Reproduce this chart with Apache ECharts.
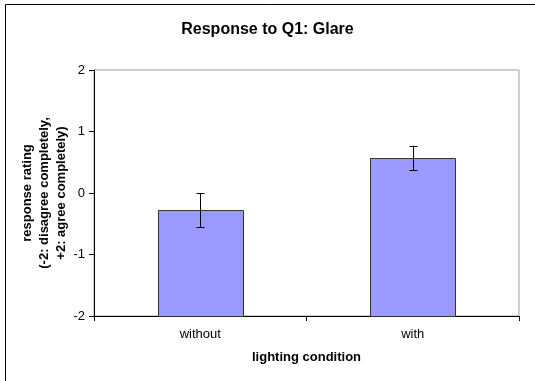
<!DOCTYPE html>
<html><head><meta charset="utf-8">
<script src="https://cdn.jsdelivr.net/npm/echarts@6/dist/echarts.min.js"></script>
<style>html,body{margin:0;padding:0;background:#fff}#c{width:535px;height:381px}</style>
</head><body><div id="c"></div>
<script>
var categories = ['without', 'with'];
var means = [-0.28, 0.57];
var errors = [0.28, 0.2];
var yTicks = [-2, -1, 0, 1, 2];

var chart = echarts.init(document.getElementById('c'), null, {renderer: 'canvas'});
var FONT = 'Liberation Sans, Arial, sans-serif';
var barData = categories.map(function (c, i) { return [i, means[i]]; });
var errData = categories.map(function (c, i) { return [i, means[i] - errors[i], means[i] + errors[i]]; });

chart.setOption({
  animation: false,
  backgroundColor: '#fff',
  title: {
    text: 'Response to Q1: Glare', left: 'center', top: 17,
    textStyle: {fontFamily: FONT, fontSize: 16, fontWeight: 'bold', color: '#000'}
  },
  graphic: [{type: 'rect', shape: {x: 5.5, y: 4.5, width: 540, height: 400}, style: {fill: 'none', stroke: '#000', lineWidth: 1}, silent: true, z: -10}],
  grid: {left: 94, right: 16, top: 70, bottom: 65, show: true, borderColor: '#a0a0a0', borderWidth: 1, backgroundColor: 'transparent'},
  xAxis: {
    type: 'category', data: categories, boundaryGap: true,
    axisLine: {onZero: false, lineStyle: {color: '#000', width: 1}},
    axisTick: {show: true, length: 5, lineStyle: {color: '#000'}},
    axisLabel: {fontFamily: FONT, fontSize: 13, color: '#000', margin: 12},
    name: 'lighting condition', nameLocation: 'middle', nameGap: 35, nameMoveOverlap: false,
    nameTextStyle: {fontFamily: FONT, fontSize: 13, fontWeight: 'bold', color: '#000'}
  },
  yAxis: {
    type: 'value', min: yTicks[0], max: yTicks[yTicks.length - 1], interval: 1,
    axisLine: {show: true, lineStyle: {color: '#000', width: 1}},
    axisTick: {show: true, length: 5, lineStyle: {color: '#000'}},
    splitLine: {show: false},
    axisLabel: {fontFamily: FONT, fontSize: 13, color: '#000', margin: 9},
    name: 'response rating\n(-2: disagree completely,\n+2: agree completely)',
    nameLocation: 'middle', nameRotate: 90, nameGap: 24, nameMoveOverlap: false,
    nameTextStyle: {fontFamily: FONT, fontSize: 13, fontWeight: 'bold', color: '#000', lineHeight: 17, align: 'center'}
  },
  series: [{
    type: 'custom', data: barData,
    renderItem: function (params, api) {
      var top = api.coord([api.value(0), api.value(1)]);
      var base = api.coord([api.value(0), yTicks[0]]);
      var w = api.size([1, 0])[0] * 0.4;
      return {
        type: 'group', children: [
          {type: 'rect', shape: {x: Math.round(top[0] - w / 2) + 0.5, y: Math.round(top[1]) + 0.5, width: Math.round(w), height: base[1] - Math.round(top[1])},
           style: {fill: '#9999ff', stroke: '#333', lineWidth: 1}}
        ]
      };
    }
  }, {
    type: 'custom', data: errData, z: 5,
    renderItem: function (params, api) {
      var lo = api.coord([api.value(0), api.value(1)]);
      var hi = api.coord([api.value(0), api.value(2)]);
      var x = Math.round(lo[0]) + 0.5, cap = 4;
      var st = {stroke: '#000', lineWidth: 1};
      return {
        type: 'group', children: [
          {type: 'line', shape: {x1: x, y1: lo[1], x2: x, y2: hi[1]}, style: st},
          {type: 'line', shape: {x1: x - cap, y1: Math.round(lo[1]) + 0.5, x2: x + cap, y2: Math.round(lo[1]) + 0.5}, style: st},
          {type: 'line', shape: {x1: x - cap, y1: Math.round(hi[1]) + 0.5, x2: x + cap, y2: Math.round(hi[1]) + 0.5}, style: st}
        ]
      };
    }
  }]
});
</script></body></html>
